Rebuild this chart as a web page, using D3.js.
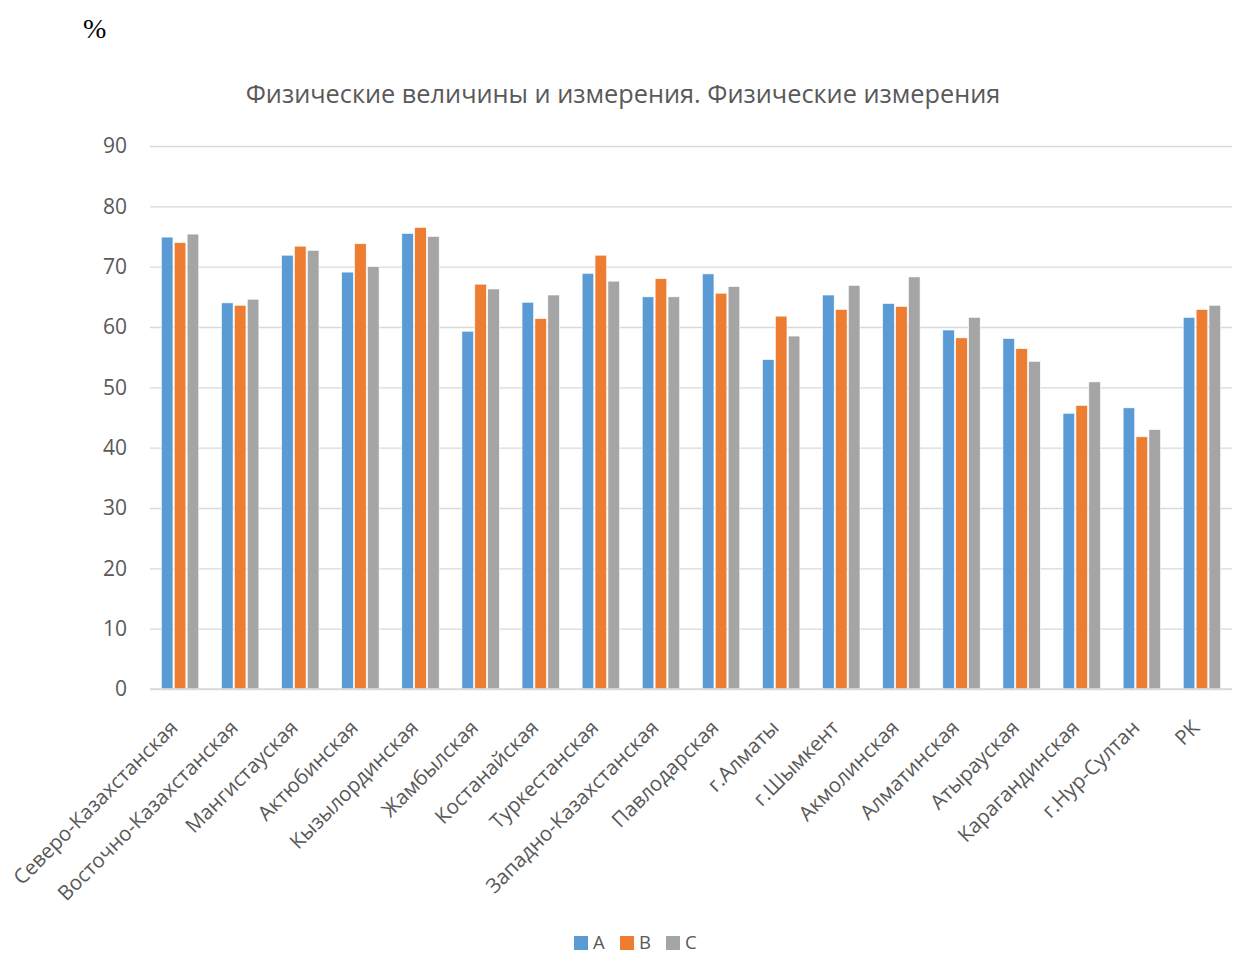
<!DOCTYPE html>
<html>
<head>
<meta charset="utf-8">
<script src="https://cdn.jsdelivr.net/npm/d3@7"></script>
<style>
  html, body { margin: 0; padding: 0; background: #fff; }
  svg { display: block; }
</style>
</head>
<body>
<svg id="chart" width="1234" height="955"></svg>
<script>
const categories = ["Северо-Казахстанская","Восточно-Казахстанская","Мангистауская","Актюбинская","Кызылординская","Жамбылская","Костанайская","Туркестанская","Западно-Казахстанская","Павлодарская","г.Алматы","г.Шымкент","Акмолинская","Алматинская","Атырауская","Карагандинская","г.Нур-Султан","РК"];
const seriesNames = ["A","B","C"];
const valuesA = [74.9,64.0,71.9,69.1,75.5,59.3,64.1,68.9,65.0,68.8,54.6,65.3,63.9,59.5,58.1,45.7,46.6,61.6];
const valuesB = [74.0,63.6,73.4,73.8,76.5,67.1,61.4,71.9,68.0,65.6,61.8,62.9,63.4,58.2,56.4,47.0,41.8,62.9];
const valuesC = [75.4,64.6,72.7,70.0,75.0,66.3,65.3,67.6,65.0,66.7,58.5,66.9,68.3,61.6,54.3,50.9,43.0,63.6];
const yTicks = [0,10,20,30,40,50,60,70,80,90];
const title = "Физические величины и измерения. Физические измерения";
const unitLabel = "%";

const colors = ["#5b9bd5","#ed7d31","#a5a5a5"];
const allValues = [valuesA, valuesB, valuesC];

const svg = d3.select("#chart");
const plotLeft = 150, plotRight = 1232, plotTop = 146, plotBottom = 689;
const font = "'Open Sans', sans-serif";

const x0 = d3.scaleBand().domain(categories).range([plotLeft, plotRight]).paddingInner(0.335).paddingOuter(0.1675);
const x1 = d3.scaleBand().domain(seriesNames).range([0, x0.bandwidth()]).padding(0.1);
const y = d3.scaleLinear().domain([0, 90]).range([plotBottom, plotTop]);

// gridlines
const yAxis = d3.axisLeft(y).tickValues(yTicks).tickSize(-(plotRight - plotLeft)).tickPadding(23);
const gy = svg.append("g").attr("transform", `translate(${plotLeft},0)`).call(yAxis);
gy.select(".domain").remove();
gy.selectAll(".tick line").attr("stroke", "#d9d9d9").attr("stroke-width", 1.3);
gy.selectAll(".tick text").attr("fill", "#595959").attr("font-family", font).attr("font-size", 21);

// bars
const groups = svg.append("g").selectAll("g").data(categories).join("g")
  .attr("transform", d => `translate(${x0(d)},0)`);
groups.selectAll("rect")
  .data((d, i) => seriesNames.map((s, k) => ({s, v: allValues[k][i], k})))
  .join("rect")
  .attr("x", d => x1(d.s))
  .attr("width", x1.bandwidth())
  .attr("y", d => y(d.v))
  .attr("height", d => y(0) - y(d.v))
  .attr("fill", d => colors[d.k])
  .attr("stroke", "#fff").attr("stroke-width", 0.6);

// baseline
svg.append("line").attr("x1", plotLeft).attr("x2", plotRight).attr("y1", y(0)).attr("y2", y(0))
  .attr("stroke", "#d9d9d9").attr("stroke-width", 1.3);

// category labels
svg.append("g").selectAll("text").data(categories).join("text")
  .attr("transform", d => `translate(${x0(d) + x0.bandwidth()/2 - 1},${plotBottom + 40}) rotate(-45)`)
  .attr("text-anchor", "end")
  .attr("fill", "#595959")
  .attr("font-family", font)
  .attr("font-size", 20.5)
  .text(d => d);

// title
svg.append("text").attr("x", 623).attr("y", 103).attr("text-anchor", "middle")
  .attr("fill", "#595959").attr("font-family", font).attr("font-size", 25.3)
  .text(title);

// % label
svg.append("text").attr("x", 83).attr("y", 38)
  .attr("fill", "#000").attr("font-family", "'Liberation Serif', serif").attr("font-size", 28)
  .text(unitLabel);

// legend
const legendX = [574, 620, 666];
const lg = svg.append("g").selectAll("g").data(seriesNames).join("g")
  .attr("transform", (d, i) => `translate(${legendX[i]},936)`);
lg.append("rect").attr("width", 14).attr("height", 14).attr("fill", (d, i) => colors[i]);
lg.append("text").attr("x", 19).attr("y", 13).attr("fill", "#595959")
  .attr("font-family", font).attr("font-size", 18.5).text(d => d);
</script>
</body>
</html>
